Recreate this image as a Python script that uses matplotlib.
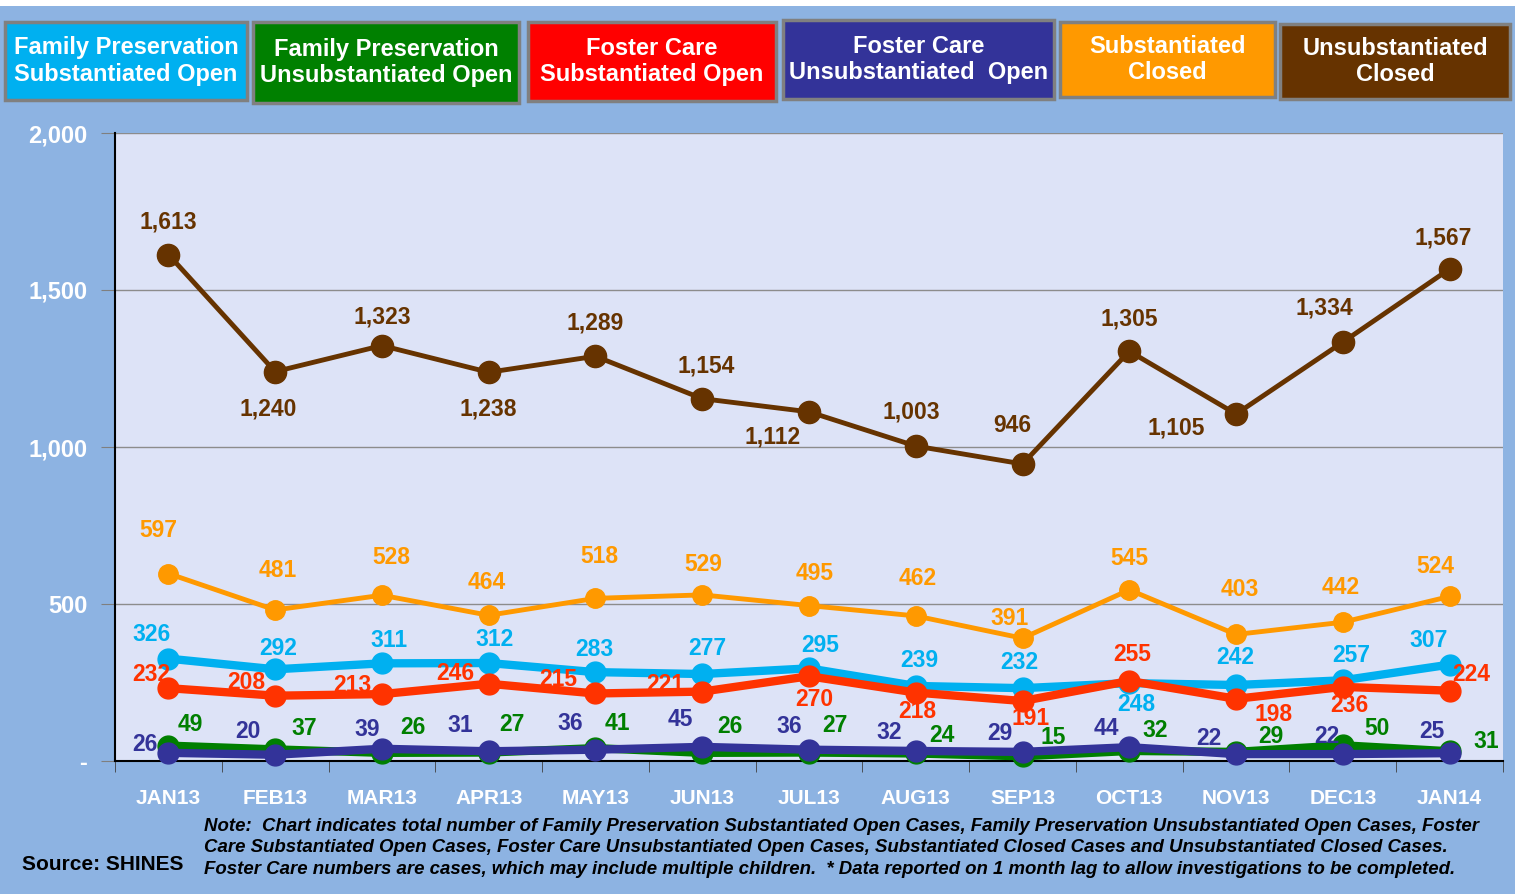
import numpy as np
import matplotlib
matplotlib.use('Agg')
import matplotlib.pyplot as plt
from matplotlib.patches import Rectangle

plt.rcParams['font.family'] = ['Liberation Sans', 'DejaVu Sans']

# Dane
months = ['JAN13', 'FEB13', 'MAR13', 'APR13', 'MAY13', 'JUN13', 'JUL13',
          'AUG13', 'SEP13', 'OCT13', 'NOV13', 'DEC13', 'JAN14']
unsub_closed = [1613, 1240, 1323, 1238, 1289, 1154, 1112, 1003, 946, 1305, 1105, 1334, 1567]
sub_closed = [597, 481, 528, 464, 518, 529, 495, 462, 391, 545, 403, 442, 524]
fp_sub_open = [326, 292, 311, 312, 283, 277, 295, 239, 232, 248, 242, 257, 307]
fc_sub_open = [232, 208, 213, 246, 215, 221, 270, 218, 191, 255, 198, 236, 224]
fc_unsub_open = [26, 20, 39, 31, 36, 45, 36, 32, 29, 44, 22, 22, 25]
fp_unsub_open = [49, 37, 26, 27, 41, 26, 27, 24, 15, 32, 29, 50, 31]

# przesuniecia etykiet (piksele)
off_brown = [(0, 33), (-7, -37), (0, 29), (0, -37), (0, 33), (4, 33), (-36, -25),
             (-4, 34), (-10, 38), (0, 32), (-60, -14), (-18, 34), (-6, 31)]
off_orange = [(-10, 43), (3, 39), (9, 38), (-2, 33), (4, 42), (1, 30), (6, 32),
              (2, 37), (-13, 20), (0, 31), (4, 45), (-2, 35), (-14, 30)]
off_cyan = [(-17, 24), (3, 21), (7, 23), (6, 24), (-1, 23), (5, 26), (11, 23),
            (4, 25), (-3, 26), (7, -21), (-1, 28), (8, 25), (-21, 24)]
off_red = [(-17, 14), (-29, 13), (-30, 9), (-33, 10), (-37, 14), (-37, 7), (5, -23),
           (2, -19), (8, -17), (3, 26), (37, -16), (7, -19), (22, 16)]
off_navy = [(-23, 8), (-27, 23), (-15, 19), (-28, 26), (-25, 26), (-22, 27), (-20, 23),
            (-27, 18), (-23, 18), (-23, 19), (-27, 16), (-16, 18), (-18, 22)]
off_green = [(22, 21), (29, 21), (31, 25), (23, 28), (22, 25), (28, 26), (26, 27),
             (26, 18), (31, 19), (26, 20), (35, 15), (34, 17), (37, 10)]

bg = '#8DB3E2'
W, H = 1515, 894
fig = plt.figure(figsize=(15.15, 8.94), dpi=100, facecolor=bg)
fig.patches.append(Rectangle((0, 1 - 6 / H), 1, 6 / H, transform=fig.transFigure,
                             facecolor='white', edgecolor='none'))

ax = fig.add_axes([115 / W, 1 - 761 / H, 1388 / W, 628 / H])
ax.set_facecolor('#DDE3F7')
x = np.arange(len(months))

series = [
    (fp_sub_open, '#00B0F0', 6, 15, off_cyan),
    (fc_sub_open, '#FF3300', 6, 15, off_red),
    (fp_unsub_open, '#007F00', 6, 15, off_green),
    (fc_unsub_open, '#333399', 6, 15, off_navy),
    (sub_closed, '#FF9900', 3.5, 14, off_orange),
    (unsub_closed, '#663300', 3.5, 16, off_brown),
]
for vals, col, lw, ms, offs in series:
    ax.plot(x, vals, color=col, lw=lw, marker='o', ms=ms, zorder=3, clip_on=False)
    for xi, v, (dx, dy) in zip(x, vals, offs):
        ax.annotate(f'{v:,}', (xi, v), xytext=(dx, dy), textcoords='offset pixels',
                    ha='center', va='center', fontsize=16.5, fontweight='bold',
                    color=col, zorder=4)

ax.set_xlim(-0.5, len(months) - 0.5)
ax.set_ylim(0, 2000)
ax.set_yticks([0, 500, 1000, 1500, 2000])
ax.set_yticklabels(['-', '500', '1,000', '1,500', '2,000'])
ax.yaxis.grid(True, color='#8C8C8C', lw=1)
ax.set_axisbelow(True)
ax.tick_params(axis='y', length=10, color='#7F7F7F', labelcolor='white',
               labelsize=17, pad=10)
for lab in ax.get_yticklabels():
    lab.set_fontweight('bold')

ax.set_xticks(x)
ax.set_xticklabels(months)
ax.set_xticks(np.arange(-0.5, len(months)), minor=True)
ax.tick_params(axis='x', which='major', length=0, labelcolor='white',
               labelsize=15, pad=20)
ax.tick_params(axis='x', which='minor', length=8, color='#404040')
for lab in ax.get_xticklabels():
    lab.set_fontweight('bold')

for s in ['top', 'right']:
    ax.spines[s].set_visible(False)
ax.spines['left'].set_color('black')
ax.spines['bottom'].set_color('black')
ax.spines['left'].set_linewidth(1.5)
ax.spines['bottom'].set_linewidth(1.5)

# legenda - kolorowe prostokaty
legend_items = [
    ('Family Preservation\nSubstantiated Open', '#00B0F0', (5, 22, 247, 100)),
    ('Family Preservation\nUnsubstantiated Open', '#008000', (253, 22, 519, 103)),
    ('Foster Care\nSubstantiated Open', '#FF0000', (528, 22, 776, 101)),
    ('Foster Care\nUnsubstantiated  Open', '#333399', (783, 20, 1054, 99)),
    ('Substantiated\nClosed', '#FF9900', (1060, 22, 1275, 97)),
    ('Unsubstantiated\nClosed', '#663300', (1280, 24, 1510, 99)),
]
for label, col, (x0, y0, x1, y1) in legend_items:
    fig.patches.append(Rectangle((x0 / W, 1 - y1 / H), (x1 - x0) / W, (y1 - y0) / H,
                                 transform=fig.transFigure, facecolor=col,
                                 edgecolor='#808080', lw=2.5))
    fig.text((x0 + x1) / 2 / W, 1 - (y0 + y1) / 2 / H, label, color='white',
             fontsize=17, fontweight='bold', ha='center', va='center', linespacing=1.2)

note = ('Note:  Chart indicates total number of Family Preservation Substantiated Open Cases, '
        'Family Preservation Unsubstantiated Open Cases, Foster\n'
        'Care Substantiated Open Cases, Foster Care Unsubstantiated Open Cases, '
        'Substantiated Closed Cases and Unsubstantiated Closed Cases.\n'
        'Foster Care numbers are cases, which may include multiple children.  '
        '* Data reported on 1 month lag to allow investigations to be completed.')
fig.text(204 / W, 1 - 848 / H, note, fontsize=13.4, fontweight='bold', style='italic',
         ha='left', va='center', linespacing=1.33)
fig.text(22 / W, 1 - 864 / H, 'Source: SHINES', fontsize=15, fontweight='bold',
         ha='left', va='center')

plt.savefig('out.png', dpi=100, facecolor=bg)
